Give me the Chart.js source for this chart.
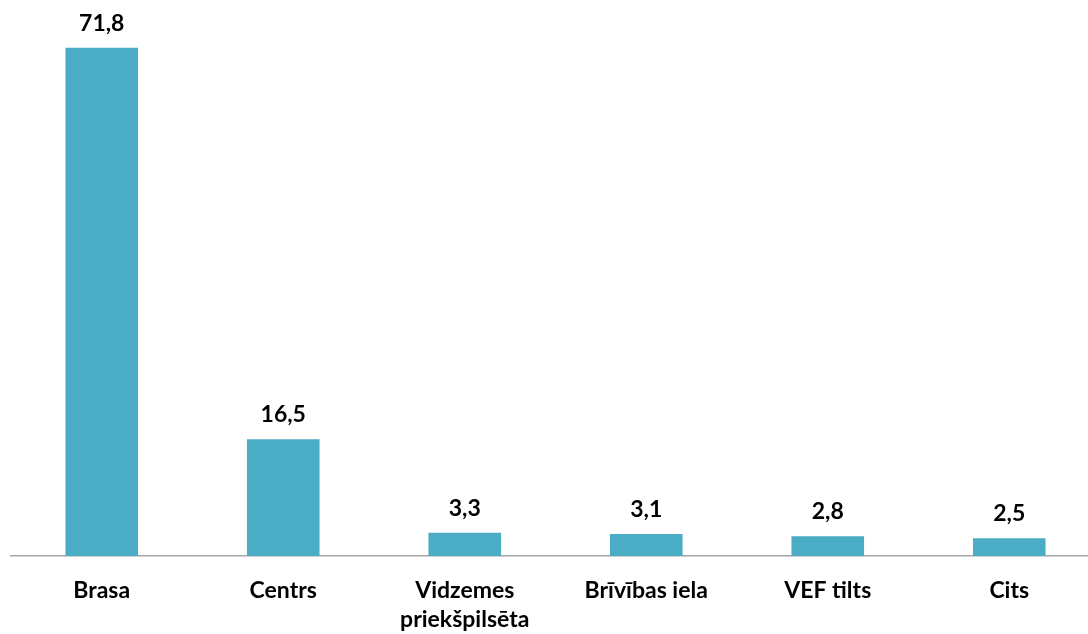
<!DOCTYPE html>
<html>
<head>
<meta charset="utf-8">
<script src="https://cdn.jsdelivr.net/npm/chart.js@4"></script>
<style>
  html, body { margin: 0; padding: 0; background: #fff; overflow: hidden; }
  #wrap { width: 1100px; height: 634px; position: relative; }
</style>
</head>
<body>
<div id="wrap"><canvas id="barChart"></canvas></div>
<script>
  const categories = ['Brasa', 'Centrs', ['Vidzemes', 'priekšpilsēta'], 'Brīvības iela', 'VEF tilts', 'Cits'];
  const values = [71.8, 16.5, 3.3, 3.1, 2.8, 2.5];

  const fontFamily = 'Lato, "Open Sans", sans-serif';

  // draws the numbers over the bars
  const valueLabels = {
    id: 'valueLabels',
    afterDatasetsDraw(chart) {
      const ctx = chart.ctx;
      const meta = chart.getDatasetMeta(0);
      ctx.save();
      ctx.font = 'bold 23px ' + fontFamily;
      ctx.fillStyle = '#000';
      ctx.textAlign = 'center';
      ctx.textBaseline = 'alphabetic';
      meta.data.forEach(function (bar, i) {
        ctx.fillText(values[i].toString().replace('.', ','), bar.x, bar.y - 17);
      });
      ctx.restore();
    }
  };

  const barData = {
    labels: categories,
    datasets: [{
      data: values,
      backgroundColor: '#4BACC6',
      borderWidth: 0,
      barPercentage: 0.4,
      categoryPercentage: 1
    }]
  };

  const barConfig = {
    type: 'bar',
    data: barData,
    options: {
      responsive: true,
      maintainAspectRatio: false,
      animation: false,
      layout: { padding: { top: 18, left: 11, right: 0, bottom: 0 } },
      plugins: {
        legend: { display: false },
        tooltip: { enabled: false }
      },
      scales: {
        x: {
          grid: { display: false },
          border: { display: true, color: '#A6A6A6', width: 1.5 },
          ticks: {
            color: '#000',
            font: { family: fontFamily, size: 23, weight: 'bold', lineHeight: 1.22 },
            padding: 13,
            maxRotation: 0,
            autoSkip: false
          },
          afterFit(scale) { scale.height = 78; }
        },
        y: {
          display: false,
          min: 0,
          max: 76
        }
      }
    },
    plugins: [valueLabels]
  };

  const barChart = new Chart(document.getElementById('barChart'), barConfig);
</script>
</body>
</html>
